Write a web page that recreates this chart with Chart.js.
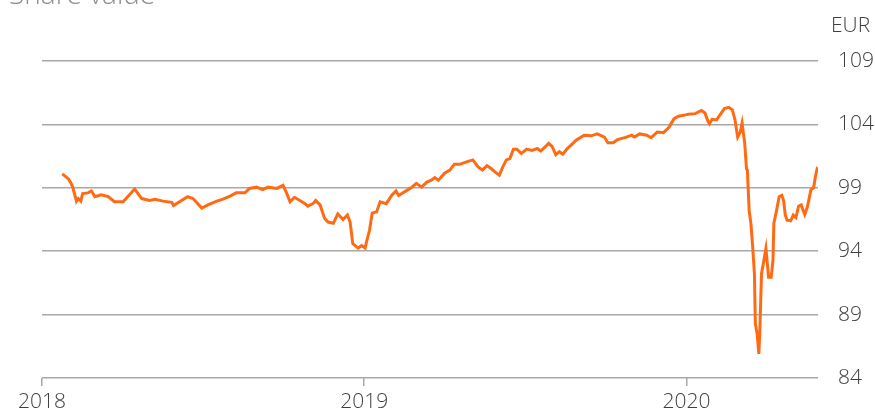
<!DOCTYPE html>
<html>
<head>
<meta charset="utf-8">
<script src="https://cdn.jsdelivr.net/npm/chart.js@4.4.1/dist/chart.umd.min.js"></script>
<style>
  html, body { margin: 0; padding: 0; background: #fff; }
  #wrap { position: relative; width: 875px; height: 415px; }
</style>
</head>
<body>
<div id="wrap"><canvas id="c1"></canvas></div>
<script>
// share price, EUR
var dates = [
  "2018-01-24", "2018-01-31", "2018-02-03", "2018-02-05", "2018-02-09", "2018-02-11", "2018-02-14", "2018-02-16",
  "2018-02-22", "2018-02-26", "2018-03-02", "2018-03-09", "2018-03-17", "2018-03-24", "2018-04-03", "2018-04-08",
  "2018-04-16", "2018-04-24", "2018-05-03", "2018-05-09", "2018-05-18", "2018-05-28", "2018-05-30", "2018-06-08",
  "2018-06-15", "2018-06-21", "2018-07-01", "2018-07-08", "2018-07-18", "2018-07-25", "2018-08-02", "2018-08-09",
  "2018-08-19", "2018-08-24", "2018-09-01", "2018-09-08", "2018-09-14", "2018-09-24", "2018-10-01", "2018-10-05",
  "2018-10-09", "2018-10-14", "2018-10-20", "2018-10-26", "2018-10-29", "2018-11-04", "2018-11-07", "2018-11-12",
  "2018-11-17", "2018-11-21", "2018-11-27", "2018-12-02", "2018-12-08", "2018-12-13", "2018-12-16", "2018-12-19",
  "2018-12-25", "2018-12-29",
  "2019-01-02", "2019-01-04", "2019-01-07", "2019-01-10", "2019-01-15", "2019-01-19", "2019-01-26", "2019-02-01",
  "2019-02-06", "2019-02-09", "2019-02-16", "2019-02-24", "2019-03-01", "2019-03-07", "2019-03-13", "2019-03-18",
  "2019-03-22", "2019-03-26", "2019-04-02", "2019-04-08", "2019-04-13", "2019-04-19", "2019-04-27", "2019-05-04",
  "2019-05-10", "2019-05-15", "2019-05-20", "2019-05-25", "2019-05-29", "2019-06-03", "2019-06-07", "2019-06-11",
  "2019-06-15", "2019-06-19", "2019-06-23", "2019-06-28", "2019-07-04", "2019-07-10", "2019-07-16", "2019-07-20",
  "2019-07-29", "2019-08-02", "2019-08-06", "2019-08-10", "2019-08-14", "2019-08-19", "2019-08-23", "2019-08-29",
  "2019-09-07", "2019-09-15", "2019-09-22", "2019-09-30", "2019-10-04", "2019-10-10", "2019-10-15", "2019-10-25",
  "2019-10-31", "2019-11-03", "2019-11-09", "2019-11-17", "2019-11-22", "2019-11-29", "2019-12-06", "2019-12-12",
  "2019-12-18", "2019-12-23", "2019-12-31",
  "2020-01-03", "2020-01-11", "2020-01-18", "2020-01-22", "2020-01-25", "2020-01-27", "2020-01-30", "2020-02-04",
  "2020-02-08", "2020-02-13", "2020-02-18", "2020-02-22", "2020-02-25", "2020-02-28", "2020-03-02", "2020-03-04",
  "2020-03-07", "2020-03-09", "2020-03-10", "2020-03-12", "2020-03-14", "2020-03-16", "2020-03-18", "2020-03-19",
  "2020-03-21", "2020-03-23", "2020-03-24", "2020-03-26", "2020-03-28", "2020-03-31", "2020-04-03", "2020-04-06",
  "2020-04-08", "2020-04-09", "2020-04-12", "2020-04-15", "2020-04-18", "2020-04-20", "2020-04-22", "2020-04-24",
  "2020-04-28", "2020-05-01", "2020-05-04", "2020-05-07", "2020-05-10", "2020-05-12", "2020-05-14", "2020-05-17",
  "2020-05-21", "2020-05-24", "2020-05-26", "2020-05-28", "2020-05-29"
];
var values = [
  100.1, 99.7, 99.35, 99.0, 97.95, 98.15, 97.95, 98.55,
  98.6, 98.75, 98.3, 98.45, 98.3, 97.9, 97.9, 98.3,
  98.9, 98.15, 98.0, 98.1, 97.95, 97.85, 97.6, 98.0,
  98.3, 98.15, 97.4, 97.65, 97.95, 98.1, 98.35, 98.6,
  98.6, 98.95, 99.05, 98.85, 99.05, 98.95, 99.2, 98.6,
  97.9, 98.25, 98.0, 97.75, 97.55, 97.75, 98.0, 97.65,
  96.6, 96.3, 96.2, 96.95, 96.5, 96.85, 96.3, 94.6,
  94.25, 94.45,
  94.25, 94.85, 95.65, 97.0, 97.1, 97.9, 97.75, 98.4,
  98.75, 98.4, 98.7, 99.05, 99.35, 99.05, 99.45, 99.6,
  99.8, 99.6, 100.15, 100.4, 100.85, 100.85, 101.05, 101.2,
  100.65, 100.4, 100.75, 100.5, 100.25, 100.0, 100.65, 101.2,
  101.3, 102.05, 102.05, 101.7, 102.05, 101.95, 102.1, 101.9,
  102.5, 102.25, 101.6, 101.85, 101.65, 102.1, 102.35, 102.75,
  103.15, 103.1, 103.25, 103.0, 102.55, 102.55, 102.8, 103.0,
  103.15, 103.0, 103.25, 103.15, 102.95, 103.4, 103.35, 103.75,
  104.45, 104.65, 104.75,
  104.8, 104.85, 105.1, 104.9, 104.3, 104.05, 104.4, 104.35,
  104.75, 105.25, 105.35, 105.15, 104.35, 103.0, 103.4, 104.1,
  102.5, 100.5, 100.4, 97.2, 96.2, 94.35, 92.2, 88.3,
  87.5, 85.9, 87.5, 92.2, 93.0, 94.2, 91.95, 91.95,
  93.3, 96.2, 97.2, 98.3, 98.4, 98.0, 96.85, 96.45,
  96.4, 96.85, 96.65, 97.55, 97.65, 97.25, 96.9, 97.5,
  98.85, 99.0, 99.85, 100.5, 100.45
];
var yearTicks = ["2018-01-01", "2019-01-01", "2020-01-01"];
var yearLabels = ["2018", "2019", "2020"];
var yTicks = [84, 89, 94, 99, 104, 109];
var title = "Share value";
var unit = "EUR";

var points = dates.map(function (d, i) {
  return { x: Date.parse(d), y: values[i] };
});

var textColor = "#3f3f3f";
var gridColor = "#a8a8a8";
var tickFont = { family: "'Open Sans', Roboto, sans-serif", size: 21, weight: "300" };

// title (partly above the canvas edge) and unit label
var extraText = {
  id: "extraText",
  afterDraw: function (chart) {
    var ctx = chart.ctx;
    ctx.save();
    ctx.textBaseline = "alphabetic";
    ctx.fillStyle = "#8e8e8e";
    ctx.font = "300 28px 'Open Sans', Roboto, sans-serif";
    ctx.fillText(title, 9, 4);
    ctx.fillStyle = textColor;
    ctx.font = "300 21px 'Open Sans', Roboto, sans-serif";
    ctx.fillText(unit, 831, 32);
    ctx.restore();
  }
};

var ctx = document.getElementById("c1").getContext("2d");
var chart = new Chart(ctx, {
  type: "line",
  data: {
    datasets: [
      {
        data: points,
        borderColor: "#ff6a13",
        borderWidth: 3,
        pointRadius: 0,
        tension: 0,
        fill: false
      }
    ]
  },
  plugins: [extraText],
  options: {
    responsive: true,
    maintainAspectRatio: false,
    animation: false,
    devicePixelRatio: 1,
    layout: { padding: { top: 61, left: 42, right: 0, bottom: 0 } },
    plugins: {
      legend: { display: false },
      tooltip: { enabled: false },
      title: { display: false }
    },
    scales: {
      x: {
        type: "linear",
        min: Date.parse(yearTicks[0]),
        max: Date.parse(dates[dates.length - 1]),
        afterBuildTicks: function (scale) {
          scale.ticks = yearTicks.map(function (d) {
            return { value: Date.parse(d) };
          });
        },
        afterFit: function (scale) {
          scale.height = 37;
        },
        grid: { drawOnChartArea: false, drawTicks: true, tickLength: 8, color: gridColor, lineWidth: 1.5 },
        border: { display: false },
        ticks: {
          padding: 3,
          color: textColor,
          font: tickFont,
          maxRotation: 0,
          autoSkip: false,
          callback: function (v, i) {
            return yearLabels[i];
          }
        }
      },
      y: {
        position: "right",
        min: yTicks[0],
        max: yTicks[yTicks.length - 1],
        afterBuildTicks: function (scale) {
          scale.ticks = yTicks.map(function (v) {
            return { value: v };
          });
        },
        afterFit: function (scale) {
          scale.width = 57;
        },
        grid: { color: gridColor, lineWidth: 1.5, drawTicks: false },
        border: { display: false },
        ticks: { padding: 20, color: textColor, font: tickFont }
      }
    }
  }
});
</script>
</body>
</html>
